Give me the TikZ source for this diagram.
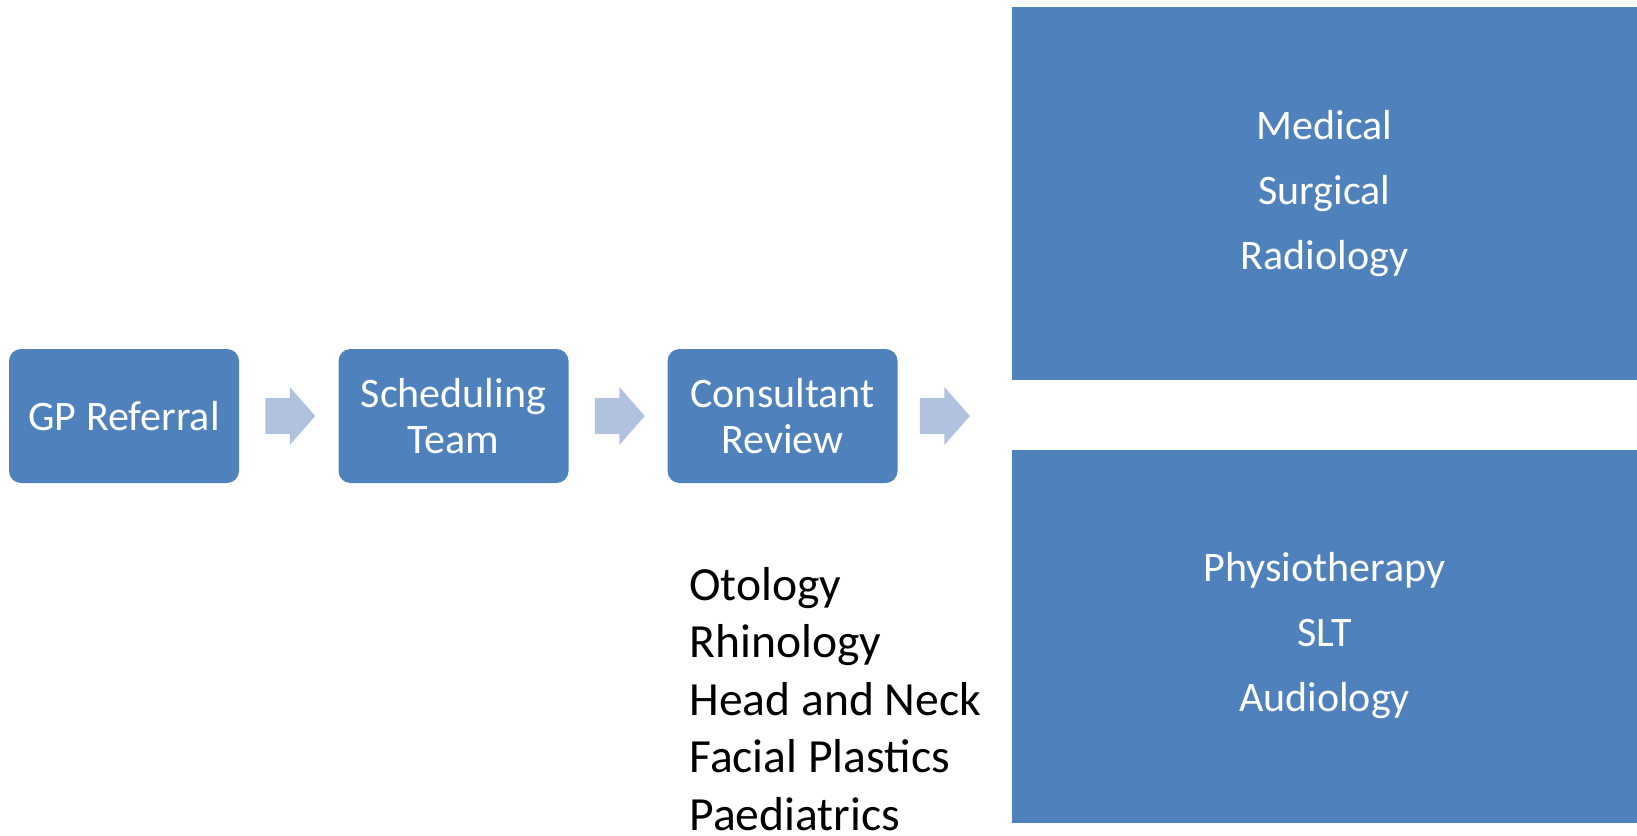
\documentclass[tikz,border=0pt]{standalone}
\usepackage{fontspec}
\setmainfont{Carlito}
\usetikzlibrary{positioning,shapes.arrows}
\definecolor{boxblue}{HTML}{4F81BD}
\definecolor{arrowblue}{HTML}{B0C2DF}

\begin{document}
\begin{tikzpicture}[x=0.5pt,y=-0.5pt,
  stepbox/.style={fill=boxblue, text=white, rounded corners=6pt, minimum width=115pt, minimum height=67pt, inner sep=2pt, align=center, font=\fontsize{21}{22.8}\selectfont},
  groupbox/.style={fill=boxblue, text=white, minimum width=312.5pt, minimum height=186.5pt, align=center, font=\fontsize{21}{32.5}\selectfont},
  blockarrow/.style={single arrow, fill=arrowblue, minimum height=25pt, inner xsep=0pt, inner ysep=8.75pt, single arrow head extend=5.5pt, single arrow tip angle=97.5},
  listitem/.style={anchor=base west, inner sep=0pt, font=\fontsize{23.8}{28.9}\selectfont}]
\useasboundingbox (0,0) rectangle (1637,835);
% referral pathway
\node[stepbox] (gp) at (124,416) {GP Referral};
\node[stepbox] (sched) at (453.5,416) {Scheduling\\Team};
\node[stepbox] (cons) at (782.5,416) {Consultant\\Review};
\node[blockarrow, right=12.75pt of gp] (a1) {};
\node[blockarrow, right=12.75pt of sched] (a2) {};
\node[blockarrow, right=10.75pt of cons] (a3) {};
% outcome groups
\node[groupbox] (hospital) at (1324.5,193.5) {Medical\\Surgical\\Radiology};
\node[groupbox] (therapy) at (1324.5,636) {Physiotherapy\\SLT\\Audiology};
% subspecialties
\foreach \sub [count=\i] in {Otology, Rhinology, Head and Neck, Facial Plastics, Paediatrics}
  \node[listitem] (sub\i) at (689,{600+57.5*(\i-1)}) {\sub};
\end{tikzpicture}
\end{document}
